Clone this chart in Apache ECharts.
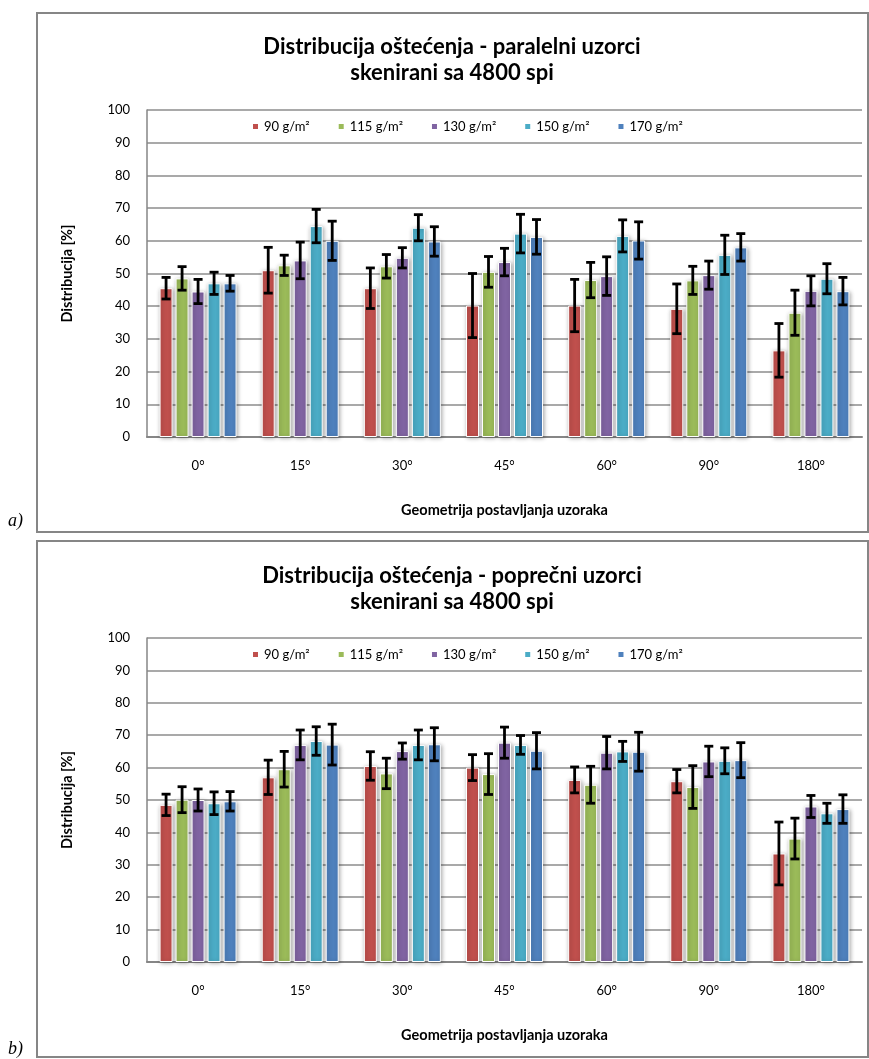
<!DOCTYPE html>
<html>
<head>
<meta charset="utf-8">
<script src="https://cdn.jsdelivr.net/npm/echarts@6/dist/echarts.min.js"></script>
<style>
html,body{margin:0;padding:0;background:#fff;}
#chart{width:869px;height:1059px;}
</style>
</head>
<body>
<div id="chart"></div>
<script>
const categories = ['0°','15°','30°','45°','60°','90°','180°'];
const seriesNames = ['90 g/m²','115 g/m²','130 g/m²','150 g/m²','170 g/m²'];
const colors = ['#C0504D','#9BBB59','#8064A2','#4BACC6','#4F81BD'];
const yTicks = [0,10,20,30,40,50,60,70,80,90,100];

// a) paralelni uzorci
const par90  = [45.5, 51.0, 45.5, 40.2, 40.2, 39.2, 26.5];
const par115 = [48.5, 52.5, 52.2, 50.5, 48.0, 47.9, 38.0];
const par130 = [44.5, 54.0, 54.8, 53.5, 49.2, 49.5, 44.7];
const par150 = [47.0, 64.5, 64.0, 62.2, 61.5, 55.7, 48.4];
const par170 = [47.0, 60.0, 59.8, 61.2, 60.1, 58.0, 44.6];
const par90Err  = [3.3, 7.0, 6.2, 9.8, 8.0, 7.6, 8.2];
const par115Err = [3.6, 3.1, 3.6, 4.7, 5.4, 4.3, 6.9];
const par130Err = [3.7, 5.6, 3.1, 4.2, 5.9, 4.3, 4.6];
const par150Err = [3.4, 5.1, 4.0, 5.9, 4.9, 6.0, 4.6];
const par170Err = [2.4, 6.0, 4.5, 5.3, 5.7, 4.2, 4.2];

// b) poprečni uzorci
const pop90  = [48.5, 57.0, 60.5, 60.0, 56.2, 55.8, 33.5];
const pop115 = [50.1, 59.5, 58.2, 58.0, 54.7, 54.0, 38.1];
const pop130 = [50.0, 67.0, 65.1, 67.7, 64.6, 61.9, 48.0];
const pop150 = [49.0, 68.2, 67.0, 67.0, 65.0, 62.1, 45.9];
const pop170 = [49.6, 67.1, 67.2, 65.2, 64.9, 62.3, 47.2];
const pop90Err  = [3.3, 5.3, 4.4, 4.0, 4.0, 3.6, 9.7];
const pop115Err = [4.0, 5.5, 4.7, 6.3, 5.7, 6.6, 6.3];
const pop130Err = [3.4, 4.6, 2.5, 4.8, 5.0, 4.7, 3.4];
const pop150Err = [3.5, 4.4, 4.6, 2.9, 3.1, 4.0, 3.1];
const pop170Err = [3.0, 6.3, 5.1, 5.6, 6.0, 5.4, 4.4];

const parVals = [par90, par115, par130, par150, par170];
const parErrs = [par90Err, par115Err, par130Err, par150Err, par170Err];
const popVals = [pop90, pop115, pop130, pop150, pop170];
const popErrs = [pop90Err, pop115Err, pop130Err, pop150Err, pop170Err];

const FONT = 'Lato';
const BAR_W = 13, BAR_GAP = 3;

function errRender(k) {
  const offset = (k - 2) * (BAR_W + BAR_GAP);
  return function (params, api) {
    const i = api.value(0), v = api.value(1), e = api.value(2);
    const t = api.coord([i, v + e]);
    const b = api.coord([i, v - e]);
    const x = t[0] + offset;
    const cap = 4.5;
    const st = {stroke: '#000', lineWidth: 2.8};
    return {type: 'group', children: [
      {type: 'line', shape: {x1: x, y1: t[1], x2: x, y2: b[1]}, style: st},
      {type: 'line', shape: {x1: x - cap, y1: t[1], x2: x + cap, y2: t[1]}, style: st},
      {type: 'line', shape: {x1: x - cap, y1: b[1], x2: x + cap, y2: b[1]}, style: st}
    ]};
  };
}

function makeAxes(gi) {
  const x = {
    type: 'category', gridIndex: gi, data: categories,
    axisLine: {lineStyle: {color: '#868686', width: 2}},
    axisTick: {show: false},
    axisLabel: {fontFamily: FONT, fontSize: 13, color: '#000', margin: 22},
    name: 'Geometrija postavljanja uzoraka', nameLocation: 'middle', nameGap: 66,
    nameTextStyle: {fontFamily: FONT, fontSize: 14.5, fontWeight: 'bold', color: '#000'}
  };
  const y = {
    type: 'value', gridIndex: gi, min: 0, max: 100, interval: 10,
    axisLine: {show: true, lineStyle: {color: '#868686', width: 1.5}},
    axisTick: {show: false},
    splitLine: {lineStyle: {color: '#8c8c8c', width: 1.5}},
    axisLabel: {fontFamily: FONT, fontSize: 13, color: '#000', margin: 17,
      formatter: function (v) { return yTicks.indexOf(v) >= 0 ? String(v) : ''; }},
    name: 'Distribucija [%]', nameLocation: 'middle', nameGap: 72,
    nameTextStyle: {fontFamily: FONT, fontSize: 14.5, fontWeight: 'bold', color: '#000'}
  };
  return [x, y];
}

const a0 = makeAxes(0), a1 = makeAxes(1);
const series = [];
[[parVals, parErrs, 0], [popVals, popErrs, 1]].forEach(function (set) {
  const vals = set[0], errs = set[1], gi = set[2];
  for (let k = 0; k < 5; k++) {
    series.push({
      type: 'bar', name: seriesNames[k], xAxisIndex: gi, yAxisIndex: gi,
      data: vals[k], barWidth: BAR_W, barGap: (BAR_GAP / BAR_W * 100) + '%',
      itemStyle: {color: colors[k], borderColor: '#fff', borderWidth: 1,
        shadowColor: 'rgba(0,0,0,0.35)', shadowBlur: 4, shadowOffsetX: 1, shadowOffsetY: 1},
      emphasis: {disabled: true}, z: 2
    });
  }
  for (let k = 0; k < 5; k++) {
    series.push({
      type: 'custom', name: 'err' + gi + k, xAxisIndex: gi, yAxisIndex: gi,
      renderItem: errRender(k),
      data: vals[k].map(function (v, i) { return [i, v, errs[k][i]]; }),
      encode: {x: 0, y: 1}, z: 5, silent: true
    });
  }
});

const titleStyle = {fontFamily: FONT, fontSize: 22, fontWeight: 'bold', color: '#000', lineHeight: 26};
const legendBase = {
  data: seriesNames, icon: 'rect', itemWidth: 7, itemHeight: 7, itemGap: 27, itemTextGap: 4,
  textStyle: {fontFamily: FONT, fontSize: 13, color: '#000'}, selectedMode: false, padding: 0
};

const option = {
  animation: false,
  backgroundColor: '#fff',
  title: [
    {text: 'Distribucija oštećenja - paralelni uzorci\nskenirani sa 4800 spi', left: 452, top: 34,
      textAlign: 'center', padding: 0, textStyle: titleStyle},
    {text: 'Distribucija oštećenja - poprečni uzorci\nskenirani sa 4800 spi', left: 452, top: 563,
      textAlign: 'center', padding: 0, textStyle: titleStyle}
  ],
  legend: [
    Object.assign({}, legendBase, {left: 251, top: 120}),
    Object.assign({}, legendBase, {left: 251, top: 648})
  ],
  grid: [
    {left: 147, top: 110, width: 715, height: 327},
    {left: 147, top: 638, width: 715, height: 324}
  ],
  xAxis: [a0[0], a1[0]],
  yAxis: [a0[1], a1[1]],
  series: series,
  graphic: [
    {type: 'rect', shape: {x: 37, y: 13, width: 831, height: 519},
      style: {fill: 'none', stroke: '#868686', lineWidth: 2}, silent: true},
    {type: 'rect', shape: {x: 37, y: 541, width: 831, height: 516},
      style: {fill: 'none', stroke: '#868686', lineWidth: 2}, silent: true},
    {type: 'text', x: 8, y: 512, style: {text: 'a)', font: 'italic 18px "Liberation Serif"', fill: '#000'}},
    {type: 'text', x: 8, y: 1040, style: {text: 'b)', font: 'italic 18px "Liberation Serif"', fill: '#000'}}
  ]
};

const chart = echarts.init(document.getElementById('chart'), null, {renderer: 'canvas'});
chart.setOption(option);
</script>
</body>
</html>
